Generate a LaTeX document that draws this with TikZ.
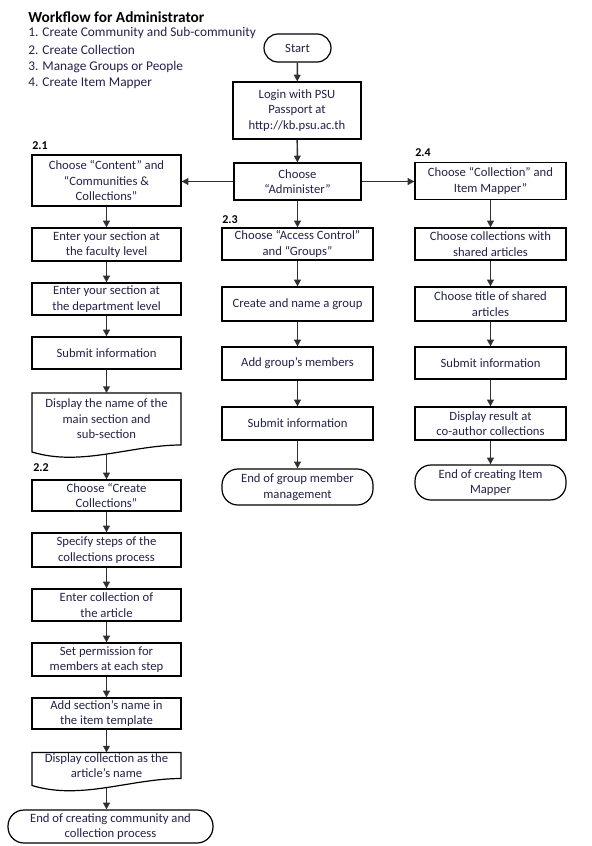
\documentclass[tikz,border=0pt]{standalone}
\usepackage{fontspec}
\setmainfont{Carlito}
\usetikzlibrary{arrows.meta,calc}
\definecolor{txt}{HTML}{22224A}
\definecolor{ln}{HTML}{303030}
\newcommand{\drawdoc}[2]{%
  \draw[boxline] ([shift={(-74.5,-#2)}]#1.center) -- ([shift={(74.5,-#2)}]#1.center)
    -- ([shift={(74.5,#2)}]#1.center)
    .. controls ([shift={(24.5,#2)}]#1.center) and ([shift={(-25.5,{#2+22})}]#1.center)
    .. ([shift={(-74.5,{#2+7})}]#1.center) -- cycle;
  \coordinate (#1t) at ([shift={(0,-#2)}]#1.center);
  \coordinate (#1b) at ([shift={(0,{#2+9})}]#1.center);
}
\begin{document}
\begin{tikzpicture}[x=0.75pt,y=-0.75pt,
  every node/.style={font=\fontsize{9.5}{11.6}\selectfont, text=txt},
  boxline/.style={draw=black, line width=0.9pt},
  box/.style={boxline, align=center, inner sep=1pt, minimum height=24.75pt},
  lcol/.style={box, minimum width=111.75pt},
  mcol/.style={box, minimum width=113.25pt},
  term/.style={box, rounded corners=12pt},
  docnode/.style={align=center, inner sep=0pt},
  lab/.style={anchor=west, inner sep=0pt, text=black, font=\bfseries\fontsize{9}{10.8}\selectfont},
  head/.style={anchor=west, inner sep=0pt},
  arr/.style={draw=ln, line width=1.1pt, -{Triangle[length=5pt,width=5pt]}}
]
\useasboundingbox (0,0) rectangle (592,846);

% title and list
\node[head, text=black, font=\bfseries\fontsize{11.5}{13}\selectfont] (title) at (28,17) {Workflow for Administrator};
\node[head, font=\fontsize{10}{12}\selectfont] (l1) at (28,33) {1. Create Community and Sub-community};
\node[head, font=\fontsize{10}{12}\selectfont] (l2) at (28,50) {2. Create Collection};
\node[head, font=\fontsize{10}{12}\selectfont] (l3) at (28,67) {3. Manage Groups or People};
\node[head, font=\fontsize{10}{12}\selectfont] (l4) at (28,83) {4. Create Item Mapper};

% labels
\node[lab] (n21) at (32,146) {2.1};
\node[lab] (n22) at (33,468) {2.2};
\node[lab] (n23) at (222,220) {2.3};
\node[lab] (n24) at (415,153) {2.4};

% top
\node[term, rounded corners=10.5pt, minimum width=50.25pt, minimum height=21pt] (start) at (297.5,48) {Start};
\node[box, minimum width=96pt, minimum height=42.75pt] (login) at (297,110.5) {Login with PSU\\Passport at\\http://kb.psu.ac.th};
\node[box, minimum width=95.25pt, minimum height=27.75pt] (admin) at (297.5,181.5) {Choose\\“Administer”};

% left column
\node[lcol, minimum height=38.25pt] (c21) at (106.5,180.5) {Choose “Content” and\\“Communities \&\\Collections”};
\node[lcol] (fac) at (106.5,244.5) {Enter your section at\\the faculty level};
\node[lcol, minimum height=24pt] (dep) at (106.5,299) {Enter your section at\\the department level};
\node[lcol, minimum height=24pt] (sub1) at (106.5,353) {Submit information};
\node[docnode] (d1) at (106.5,419) {Display the name of the\\main section and\\sub-section};
\drawdoc{d1}{26}
\node[lcol, minimum height=23.25pt] (cc) at (106.5,495.5) {Choose “Create\\Collections”};
\node[lcol, minimum height=25.5pt] (spec) at (106.5,550) {Specify steps of the\\collections process};
\node[lcol, minimum height=24pt] (ent) at (106.5,605) {Enter collection of\\the article};
\node[lcol] (perm) at (106.5,659.5) {Set permission for\\members at each step};
\node[lcol, minimum height=23.25pt] (add) at (106.5,713.5) {Add section’s name in\\the item template};
\node[docnode] (d2) at (106.5,765.5) {Display collection as the\\article’s name};
\drawdoc{d2}{13}
\node[term, minimum width=153.75pt, minimum height=24.75pt] (endc) at (110.5,826.5) {End of creating community and\\collection process};

% middle column
\node[mcol, minimum height=24pt] (acc) at (297.5,244) {Choose “Access Control”\\and “Groups”};
\node[mcol, minimum height=25.5pt] (cre) at (297.5,304) {Create and name a group};
\node[mcol] (addg) at (297.5,363.5) {Add group’s members};
\node[mcol] (sub2) at (297.5,423.5) {Submit information};
\node[term, minimum width=113.25pt, minimum height=27pt] (endg) at (297.5,487) {End of group member\\management};

% right column
\node[mcol, minimum height=27.75pt] (c24) at (490.5,181) {Choose “Collection” and\\Item Mapper”};
\node[mcol, minimum height=24pt] (col) at (490.5,244) {Choose collections with\\shared articles};
\node[mcol, minimum height=25.5pt] (tit) at (490.5,304) {Choose title of shared\\articles};
\node[mcol, minimum height=24pt] (sub3) at (490.5,363) {Submit information};
\node[mcol] (disp) at (490.5,423.5) {Display result at\\co-author collections};
\node[term, minimum width=113.25pt, minimum height=26.25pt] (endm) at (490.5,482.5) {End of creating Item\\Mapper};

% connectors
\draw[arr] (start) -- (login);
\draw[arr] (login) -- (admin);
\draw[arr] (admin.west) -- (admin.west -| c21.east);
\draw[arr] (admin.east) -- (admin.east -| c24.west);
\draw[arr] (admin) -- (acc);
\draw[arr] (c21) -- (fac);
\draw[arr] (fac) -- (dep);
\draw[arr] (dep) -- (sub1);
\draw[arr] (sub1) -- (d1t);
\draw[arr] (d1b) -- (cc);
\draw[arr] (cc) -- (spec);
\draw[arr] (spec) -- (ent);
\draw[arr] (ent) -- (perm);
\draw[arr] (perm) -- (add);
\draw[arr] (add) -- (d2t);
\draw[arr] (d2b) -- (d2b |- endc.north);
\draw[arr] (acc) -- (cre);
\draw[arr] (cre) -- (addg);
\draw[arr] (addg) -- (sub2);
\draw[arr] (sub2) -- (endg);
\draw[arr] (c24) -- (col);
\draw[arr] (col) -- (tit);
\draw[arr] (tit) -- (sub3);
\draw[arr] (sub3) -- (disp);
\draw[arr] (disp) -- (endm);
\end{tikzpicture}
\end{document}
